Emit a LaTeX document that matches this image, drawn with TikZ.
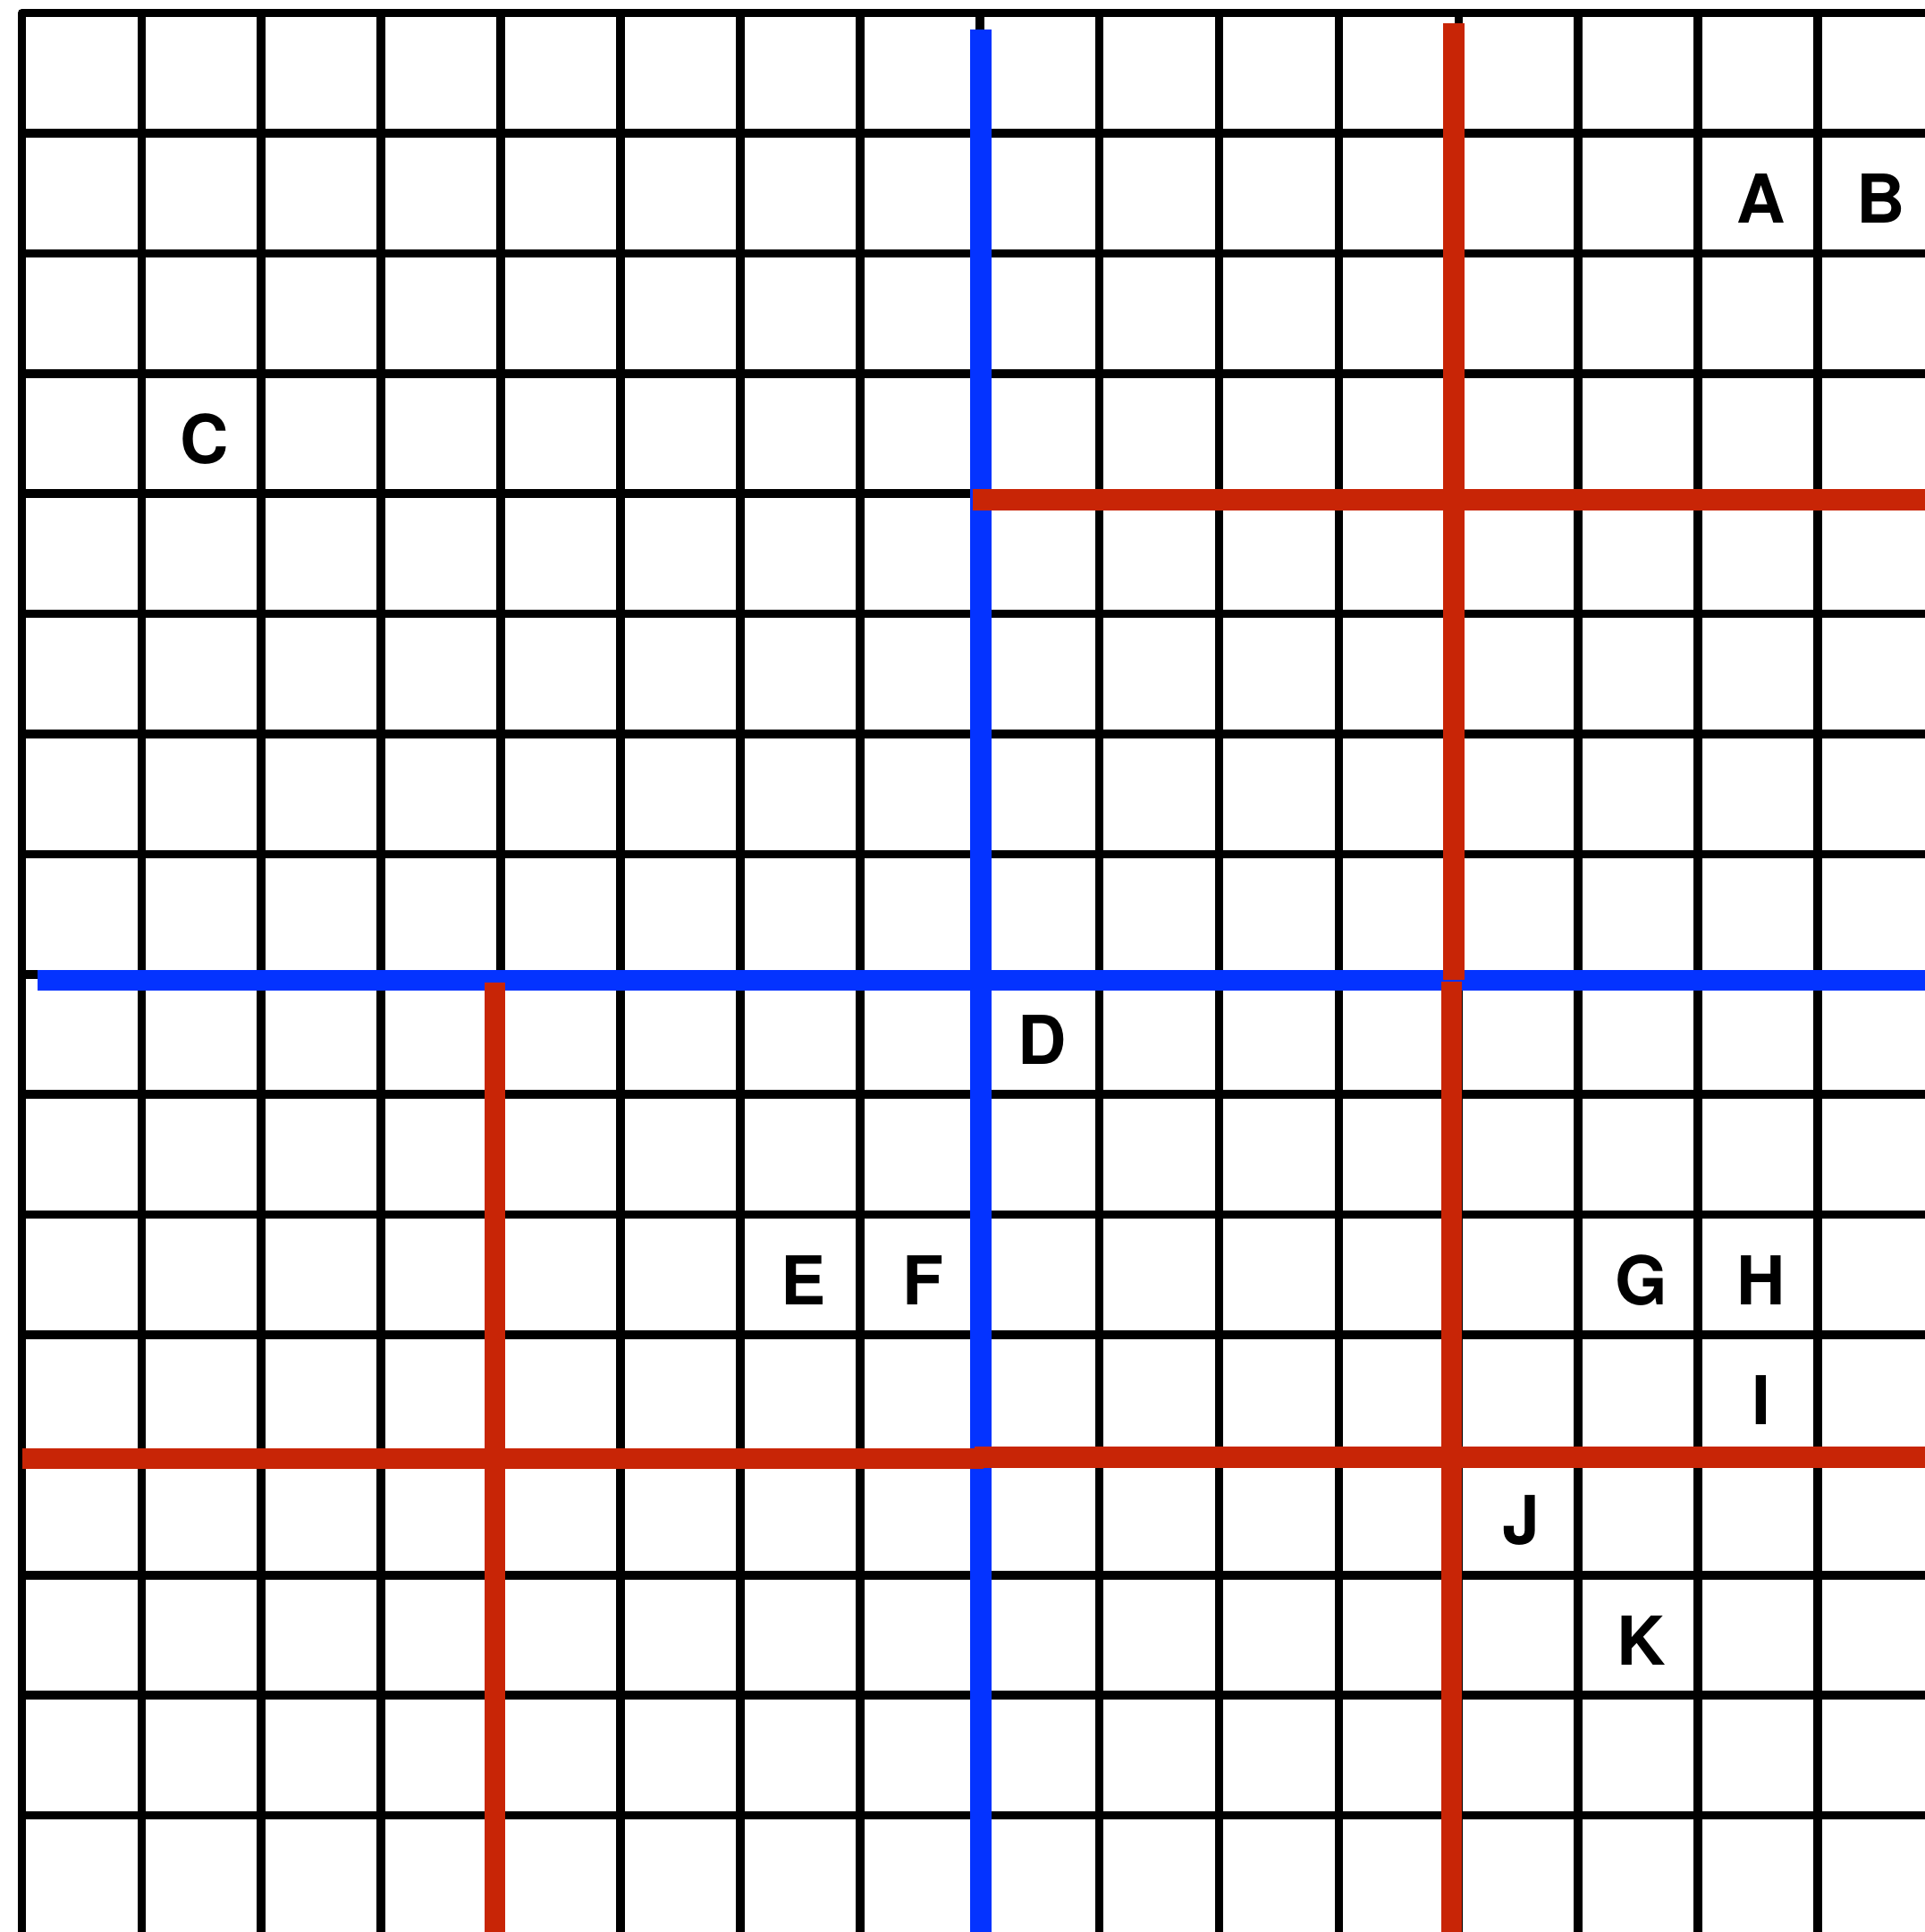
\documentclass[tikz,border=0pt]{standalone}
\usepackage{fontspec}
\setmainfont{TeX Gyre Heros}
\usetikzlibrary{positioning}
\definecolor{cutblue}{RGB}{4,51,255}
\definecolor{cutred}{RGB}{200,37,6}
\tikzset{
  gridline/.style={line width=2.05pt,black},
  bluecut/.style={line width=4.95pt,cutblue},
  redcut/.style={line width=4.95pt,cutred},
  cellmark/.style={font=\fontsize{16}{19}\selectfont\bfseries,inner sep=0pt}
}
\begin{document}
\begin{tikzpicture}[x=1cm,y=1.0037cm]
\useasboundingbox (-0.183,0.108) rectangle (15.889,-15.971);
% grid
\draw[gridline,line join=round] (0,-15.98)--(0,0)--(15.9,0);
\draw[gridline] (1,0)--(1,-15.98);
\draw[gridline] (2,0)--(2,-15.98);
\draw[gridline] (3,0)--(3,-15.98);
\draw[gridline] (4,0)--(4,-15.98);
\draw[gridline] (5,0)--(5,-15.98);
\draw[gridline] (6,0)--(6,-15.98);
\draw[gridline] (7,0)--(7,-15.98);
\draw[gridline] (8,0)--(8,-15.98);
\draw[gridline] (9,0)--(9,-15.98);
\draw[gridline] (10,0)--(10,-15.98);
\draw[gridline] (11,0)--(11,-15.98);
\draw[gridline] (12,0)--(12,-15.98);
\draw[gridline] (13,0)--(13,-15.98);
\draw[gridline] (14,0)--(14,-15.98);
\draw[gridline] (15,0)--(15,-15.98);
\draw[gridline] (0,-1)--(15.9,-1);
\draw[gridline] (0,-2)--(15.9,-2);
\draw[gridline] (0,-3)--(15.9,-3);
\draw[gridline] (0,-4)--(15.9,-4);
\draw[gridline] (0,-5)--(15.9,-5);
\draw[gridline] (0,-6)--(15.9,-6);
\draw[gridline] (0,-7)--(15.9,-7);
\draw[gridline] (0,-8)--(15.9,-8);
\draw[gridline] (0,-9)--(15.9,-9);
\draw[gridline] (0,-10)--(15.9,-10);
\draw[gridline] (0,-11)--(15.9,-11);
\draw[gridline] (0,-12)--(15.9,-12);
\draw[gridline] (0,-13)--(15.9,-13);
\draw[gridline] (0,-14)--(15.9,-14);
\draw[gridline] (0,-15)--(15.9,-15);
% cut lines
\coordinate (bv0) at (8.01,-0.138);
\coordinate (bv1) at (8.01,-15.98);
\coordinate (bh0) at (0.127,-8.05);
\coordinate (bh1) at (15.9,-8.05);
\coordinate (ra0) at (11.96,-0.086);
\coordinate (ra1) at (11.96,-8.05);
\coordinate (ra2) at (11.94,-8.06);
\coordinate (ra3) at (11.94,-15.98);
\coordinate (rb0) at (7.94,-4.05);
\coordinate (rb1) at (15.9,-4.05);
\coordinate (rc0) at (3.95,-8.07);
\coordinate (rc1) at (3.95,-15.98);
\coordinate (rd0) at (0,-12.03);
\coordinate (rd1) at (8.03,-12.03);
\coordinate (rd2) at (7.96,-12.02);
\coordinate (rd3) at (15.9,-12.02);
\draw[bluecut] (bv0)--(bv1);
\draw[bluecut] (bh0)--(bh1);
\draw[redcut] (ra0)--(ra1);
\draw[redcut] (ra2)--(ra3);
\draw[redcut] (rb0)--(rb1);
\draw[redcut] (rc0)--(rc1);
\draw[redcut] (rd0)--(rd1);
\draw[redcut] (rd2)--(rd3);
% letters
\node[cellmark] (A) at (14.525,-1.545) {A};
\node[cellmark] (B) at (15.525,-1.545) {B};
\node[cellmark] (C) at (1.525,-3.545) {C};
\node[cellmark] (D) at (8.525,-8.545) {D};
\node[cellmark] (E) at (6.525,-10.545) {E};
\node[cellmark] (F) at (7.525,-10.545) {F};
\node[cellmark] (G) at (13.525,-10.545) {G};
\node[cellmark] (H) at (14.525,-10.545) {H};
\node[cellmark] (I) at (14.525,-11.545) {I};
\node[cellmark] (J) at (12.525,-12.545) {J};
\node[cellmark] (K) at (13.525,-13.545) {K};
\end{tikzpicture}
\end{document}
